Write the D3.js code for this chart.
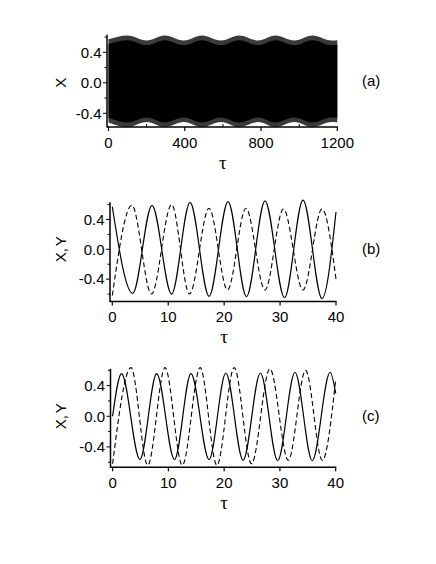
<!DOCTYPE html>
<html><head><meta charset="utf-8">
<script src="https://cdn.jsdelivr.net/npm/d3@7"></script>
<style>body{margin:0;background:#fff}</style>
</head><body>
<script>
// ---------- DATA ----------
// panel (a): envelope of the fast oscillation X(tau), tau in [0,1200]
const envTau = [0, 100, 200, 295, 395, 490, 590, 685, 785, 875, 975, 1070, 1170, 1200];
const envTop = [0.57, 0.62, 0.555, 0.62, 0.555, 0.62, 0.555, 0.62, 0.555, 0.62, 0.555, 0.62, 0.555, 0.56];
const envBot = [-0.52, -0.58, -0.515, -0.58, -0.515, -0.58, -0.515, -0.58, -0.515, -0.58, -0.515, -0.58, -0.515, -0.52];

// panel (b): X (solid) and Y (dashed), extrema
const bTauX = [0, 3.65, 7.1, 10.6, 13.9, 17.3, 20.7, 24.0, 27.3, 30.8, 34.1, 37.5, 40];
const bX    = [0.57, -0.59, 0.59, -0.60, 0.63, -0.63, 0.64, -0.635, 0.65, -0.65, 0.66, -0.66, 0.50];
const bTauY = [0, 3.5, 7.0, 10.6, 13.8, 17.3, 20.6, 23.9, 27.3, 30.6, 34.1, 37.5, 40];
const bY    = [-0.62, 0.59, -0.60, 0.60, -0.60, 0.55, -0.545, 0.55, -0.545, 0.54, -0.545, 0.54, -0.40];

// panel (c)
const cTauX = [0, 1.6, 4.9, 7.9, 11.1, 14.05, 17.3, 20.3, 23.4, 26.5, 29.6, 32.7, 35.8, 39.0, 40];
const cX    = [0.0, 0.557, -0.565, 0.557, -0.565, 0.557, -0.565, 0.565, -0.575, 0.565, -0.58, 0.575, -0.58, 0.575, 0.30];
const cTauY = [0, 3.3, 6.3, 9.4, 12.5, 15.7, 18.7, 21.8, 24.9, 28.2, 31.5, 34.6, 37.6, 40];
const cY    = [-0.62, 0.635, -0.64, 0.635, -0.64, 0.635, -0.64, 0.635, -0.62, 0.62, -0.575, 0.60, -0.575, 0.48];

// ticks
const aXMajor = [0, 400, 800, 1200], aXMinor = [200, 600, 1000];
const tXMajor = [0, 10, 20, 30, 40];
const yMajor = [-0.4, 0.0, 0.4], yMinor = [-0.6, -0.2, 0.2, 0.6];
const panelLabels = ["(a)", "(b)", "(c)"];
const yLabels = ["X", "X, Y", "X, Y"];

// ---------- LAYOUT ----------
const W = 436, H = 564;
const FONT = "'Liberation Sans', Arial, sans-serif";
const svg = d3.select("body").append("svg").attr("width", W).attr("height", H)
  .style("background", "#fff");

const panels = [
  {xd: [0, 1200], xr: [108.5, 337.3], yd: [-0.58, 0.63], yr: [127.0, 34.8], axX: 107, xMaj: aXMajor, xMin: aXMinor, labY: 86},
  {xd: [0, 40], xr: [112.3, 336], yd: [-0.70, 0.63], yr: [301.5, 202.3], axX: 110, xMaj: tXMajor, xMin: [], labY: 254},
  {xd: [0, 40], xr: [112.6, 335.7], yd: [-0.665, 0.62], yr: [467.2, 368.8], axX: 110.5, xMaj: tXMajor, xMin: [], labY: 421}
];

panels.forEach((p, i) => {
  const g = svg.append("g");
  const x = d3.scaleLinear().domain(p.xd).range(p.xr);
  const y = d3.scaleLinear().domain(p.yd).range(p.yr);
  const yB = p.yr[0], yT = p.yr[1], xR = p.xr[1];

  // data
  if (i === 0) {
    const env = envTau.map((t, k) => ({t, top: envTop[k], bot: envBot[k]}));
    const area = d3.area().x(d => x(d.t)).y0(d => y(d.bot)).y1(d => y(d.top)).curve(d3.curveMonotoneX);
    g.append("path").datum(env).attr("d", area).attr("fill", "#3a3a3a");
    const inner = d3.area().x(d => x(d.t)).y0(d => y(d.bot + 0.06)).y1(d => y(d.top - 0.06)).curve(d3.curveMonotoneX);
    g.append("path").datum(env).attr("d", inner).attr("fill", "#000");
  } else {
    const tx = i === 1 ? bTauX : cTauX, vx = i === 1 ? bX : cX;
    const ty = i === 1 ? bTauY : cTauY, vy = i === 1 ? bY : cY;
    const line = d3.line().x(d => x(d[0])).y(d => y(d[1])).curve(d3.curveMonotoneX);
    g.append("path").datum(ty.map((t, k) => [t, vy[k]])).attr("d", line)
      .attr("fill", "none").attr("stroke", "#000").attr("stroke-width", 1.1).attr("stroke-dasharray", "5,3");
    g.append("path").datum(tx.map((t, k) => [t, vx[k]])).attr("d", line)
      .attr("fill", "none").attr("stroke", "#000").attr("stroke-width", 1.2);
  }

  // axes lines
  g.append("line").attr("x1", p.axX).attr("x2", p.axX).attr("y1", yT).attr("y2", yB + 0.5)
    .attr("stroke", "#000").attr("stroke-width", 1.5);
  g.append("line").attr("x1", p.axX).attr("x2", xR + 0.5).attr("y1", yB).attr("y2", yB)
    .attr("stroke", "#000").attr("stroke-width", 1.5);

  // y ticks
  yMajor.forEach(v => {
    g.append("line").attr("x1", p.axX - 4).attr("x2", p.axX).attr("y1", y(v)).attr("y2", y(v))
      .attr("stroke", "#000").attr("stroke-width", 1);
    g.append("text").attr("x", p.axX - 5.5).attr("y", y(v)).attr("dy", "0.35em")
      .attr("text-anchor", "end").attr("font-family", FONT).attr("font-size", 15)
      .text(v.toFixed(1));
  });
  yMinor.filter(v => v >= p.yd[0] && v <= p.yd[1]).forEach(v => {
    g.append("line").attr("x1", p.axX - 2.5).attr("x2", p.axX).attr("y1", y(v)).attr("y2", y(v))
      .attr("stroke", "#000").attr("stroke-width", 1);
  });
  // x ticks
  p.xMaj.forEach(v => {
    g.append("line").attr("x1", x(v)).attr("x2", x(v)).attr("y1", yB).attr("y2", yB + 4)
      .attr("stroke", "#000").attr("stroke-width", 1.2);
    g.append("text").attr("x", x(v)).attr("y", yB + 20.5).attr("text-anchor", "middle")
      .attr("font-family", FONT).attr("font-size", 15).text(v);
  });
  p.xMin.forEach(v => {
    g.append("line").attr("x1", x(v)).attr("x2", x(v)).attr("y1", yB).attr("y2", yB - 3)
      .attr("stroke", "#000").attr("stroke-width", 1);
  });

  // axis titles
  g.append("text").attr("x", (p.xr[0] + p.xr[1]) / 2).attr("y", yB + 41.5)
    .attr("text-anchor", "middle").attr("font-family", "'Liberation Serif', serif")
    .attr("font-size", 19).text("τ");
  const yc = y(0);
  g.append("text").attr("transform", `translate(65.5,${yc}) rotate(-90)`)
    .attr("text-anchor", "middle").attr("font-family", FONT).attr("font-size", 15)
    .style("word-spacing", "-2px").text(yLabels[i]);
  g.append("text").attr("x", 362).attr("y", p.labY).attr("font-family", FONT)
    .attr("font-size", 15).text(panelLabels[i]);
});
</script>
</body></html>
